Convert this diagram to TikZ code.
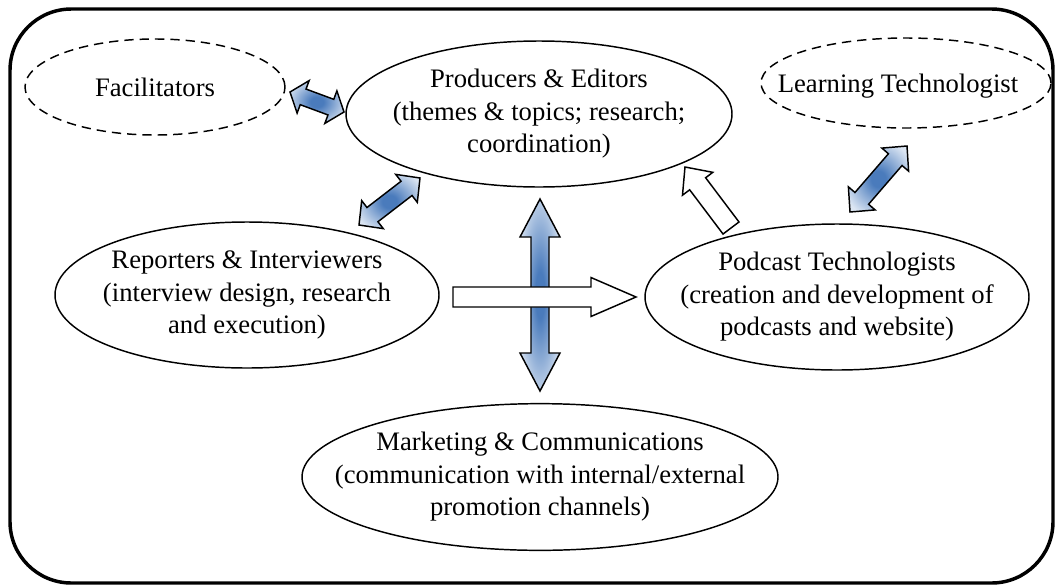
\documentclass[tikz,border=0pt]{standalone}
\usepackage{fontspec}
\setmainfont{Liberation Serif}
\usetikzlibrary{calc,shapes.geometric}
\definecolor{arrowblue}{RGB}{74,123,188}
\definecolor{arrowlight}{RGB}{220,230,243}
\pgfdeclareradialshading{blueglow}{\pgfpoint{0bp}{0bp}}{%
  color(0bp)=(arrowblue); color(6bp)=(arrowblue); color(30bp)=(arrowlight); color(50bp)=(arrowlight)}
% double block arrow: #1,#2 ends, #3 shaft half width, #4 head half width, #5 head length, #6 style
\newcommand{\dblarrow}[6]{%
  \coordinate (dA) at ($(#1)!#5!(#2)$);
  \coordinate (dB) at ($(#2)!#5!(#1)$);
  \path[#6] (#1) -- ($(dA)!#4!90:(#2)$) -- ($(dA)!#3!90:(#2)$)
    -- ($(dB)!#3!-90:(#1)$) -- ($(dB)!#4!-90:(#1)$) -- (#2)
    -- ($(dB)!#4!90:(#1)$) -- ($(dB)!#3!90:(#1)$)
    -- ($(dA)!#3!-90:(#2)$) -- ($(dA)!#4!-90:(#2)$) -- cycle;
}
% single block arrow: #1 tail, #2 tip
\newcommand{\sglarrow}[6]{%
  \coordinate (sH) at ($(#2)!#5!(#1)$);
  \path[#6] ($(#1)!#3!90:(#2)$) -- ($(sH)!#3!-90:(#1)$) -- ($(sH)!#4!-90:(#1)$)
    -- (#2) -- ($(sH)!#4!90:(#1)$) -- ($(sH)!#3!90:(#1)$)
    -- ($(#1)!#3!-90:(#2)$) -- cycle;
}
\tikzset{
  role/.style={ellipse, draw, line width=1.1pt, inner sep=0pt},
  dashrole/.style={role, dash pattern=on 7pt off 4.5pt},
  txt/.style={align=center, inner sep=0pt, font=\fontsize{20pt}{24.4pt}\selectfont},
  bluearrow/.style={draw, line width=1.1pt, line join=miter, shade, shading=blueglow},
  whitearrow/.style={draw, line width=1.1pt, line join=miter, fill=white},
  frame/.style={line width=2.6pt, rounded corners=46pt}
}
\begin{document}
\begin{tikzpicture}[x=0.75pt,y=-0.75pt]
\useasboundingbox (0,0) rectangle (1057,586);
\draw[frame] (10,9) rectangle (1053,583);

% roles
\node[dashrole, minimum width=195pt, minimum height=72pt] (fac) at (155,87) {};
\node[txt] (factxt) at (fac.center) {Facilitators};

\node[role, minimum width=289.5pt, minimum height=109.5pt] (prod) at (539,114) {};
\node[txt] (prodtxt) at (prod.center) {Producers \& Editors\\(themes \& topics; research;\\coordination)};

\node[dashrole, minimum width=217.5pt, minimum height=67.5pt] (learn) at (906,83) {};
\node[txt] (learntxt) at (898,86) {Learning Technologist};

\node[role, minimum width=288pt, minimum height=109.5pt] (rep) at (247,295) {};
\node[txt] (reptxt) at (rep.center) {Reporters \& Interviewers\\(interview design, research\\and execution)};

\node[role, minimum width=288pt, minimum height=109.5pt] (pod) at (837,297) {};
\node[txt] (podtxt) at (pod.center) {Podcast Technologists\\(creation and development of\\podcasts and website)};

\node[role, minimum width=357pt, minimum height=110pt] (mkt) at (540,477) {};
\node[txt] (mkttxt) at (mkt.center) {Marketing \& Communications\\(communication with internal/external\\promotion channels)};

% arrow end points
\coordinate (f1) at (290,92);  \coordinate (f2) at (344,112);
\coordinate (r1) at (359,225); \coordinate (r2) at (420,178);
\coordinate (l1) at (850,212); \coordinate (l2) at (907,146);
\coordinate (v1) at (540,199); \coordinate (v2) at (540,391);
\coordinate (h1) at (453,297); \coordinate (h2) at (636,297);
\coordinate (d1) at (731,228); \coordinate (d2) at (685,167);

\dblarrow{f1}{f2}{6.25pt}{13pt}{10.5pt}{bluearrow}
\dblarrow{r1}{r2}{6.75pt}{13.25pt}{12.75pt}{bluearrow}
\dblarrow{l1}{l2}{6.75pt}{13.25pt}{13.5pt}{bluearrow}
\dblarrow{v1}{v2}{6.75pt}{15pt}{28.5pt}{bluearrow}
\sglarrow{h1}{h2}{7.5pt}{14.6pt}{33.75pt}{whitearrow}
\sglarrow{d1}{d2}{7.5pt}{14.25pt}{15.75pt}{whitearrow}
\end{tikzpicture}
\end{document}
